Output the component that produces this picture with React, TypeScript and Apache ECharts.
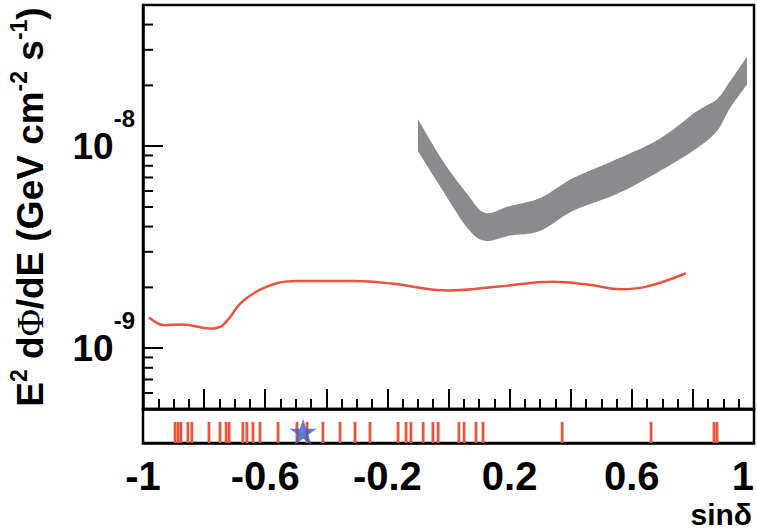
import React, { useEffect, useRef } from "react";
import * as echarts from "echarts";

// Sensitivity curve (red line): sin(declination) vs E^2 dPhi/dE [GeV cm^-2 s^-1]
const sinRedLine = [-0.980, -0.928, -0.869, -0.781, -0.739, -0.669, -0.565, -0.493, -0.306, -0.188, 0.002, 0.165, 0.342, 0.460, 0.565, 0.637, 0.777];
const fluxRedLine = [1.42e-9, 1.30e-9, 1.31e-9, 1.25e-9, 1.30e-9, 1.73e-9, 2.09e-9, 2.15e-9, 2.15e-9, 2.09e-9, 1.93e-9, 2.02e-9, 2.13e-9, 2.06e-9, 1.96e-9, 2.00e-9, 2.35e-9];

// Gray band (lower / upper edges)
const bandSin = [-0.100, -0.018, 0.061, 0.119, 0.201, 0.300, 0.408, 0.552, 0.692, 0.813, 0.879, 0.921, 0.977];
const bandLower = [9.45e-9, 6.00e-9, 3.95e-9, 3.40e-9, 3.61e-9, 3.81e-9, 4.79e-9, 5.81e-9, 7.53e-9, 9.77e-9, 1.19e-8, 1.54e-8, 2.02e-8];
const bandUpper = [1.36e-8, 8.43e-9, 5.81e-9, 4.68e-9, 5.06e-9, 5.54e-9, 6.95e-9, 8.63e-9, 1.09e-8, 1.49e-8, 1.71e-8, 2.09e-8, 2.77e-8];

// Event declinations (red marks in lower strip)
const stripEvents = [-0.895, -0.885, -0.876, -0.853, -0.840, -0.784, -0.748, -0.728, -0.718, -0.673, -0.660, -0.640, -0.617, -0.558, -0.496, -0.463, -0.411, -0.355, -0.306, -0.257, -0.165, -0.139, -0.123, -0.083, -0.051, -0.034, 0.034, 0.051, 0.090, 0.113, 0.372, 0.663, 0.869, 0.879];
// Star marker
const starSin = [-0.476];

// Log-axis minor ticks
const yMinorTicks = [6e-10, 7e-10, 8e-10, 9e-10, 2e-9, 3e-9, 4e-9, 5e-9, 6e-9, 7e-9, 8e-9, 9e-9, 2e-8, 3e-8, 4e-8];

const xTickLabels = ["-1", "-0.6", "-0.2", "0.2", "0.6", "1"];

const FONT = '"Liberation Sans", Arial, Helvetica, sans-serif';
const RED = "#e9543f";
const GRAY = "#8a8a8f";
const BLUE = "#3c5bc6";
const STAR = "path://M50,0 L61.2,34.5 L97.6,34.5 L68.2,55.9 L79.4,90.5 L50,69.1 L20.6,90.5 L31.8,55.9 L2.4,34.5 L38.8,34.5 Z";

// visual Catmull-Rom smoothing of pixel points
function spline(p: number[][], steps = 10): number[][] {
  const out: number[][] = [];
  const n = p.length;
  for (let i = 0; i < n - 1; i++) {
    const p0 = p[Math.max(i - 1, 0)], p1 = p[i], p2 = p[i + 1], p3 = p[Math.min(i + 2, n - 1)];
    for (let k = 0; k < steps; k++) {
      const t = k / steps, t2 = t * t, t3 = t2 * t;
      const f = (a: number, b: number, c: number, d: number) =>
        0.5 * (2 * b + (-a + c) * t + (2 * a - 5 * b + 4 * c - d) * t2 + (-a + 3 * b - 3 * c + d) * t3);
      out.push([f(p0[0], p1[0], p2[0], p3[0]), f(p0[1], p1[1], p2[1], p3[1])]);
    }
  }
  out.push(p[n - 1]);
  return out;
}

export default function App() {
  const ref = useRef<HTMLDivElement>(null);
  useEffect(() => {
    const chart = echarts.init(ref.current as HTMLDivElement, null, { renderer: "svg" });
    const axisLine = { show: true, onZero: false, lineStyle: { color: "#000", width: 2.5 } };
    const option: any = {
      animation: false,
      backgroundColor: "#fff",
      grid: [
        { left: 143, top: 5, width: 611, height: 404, show: true, borderColor: "#000", borderWidth: 2.5, backgroundColor: "transparent", outerBoundsMode: "none", containLabel: false },
        { left: 143, top: 409, width: 611, height: 34, show: true, borderColor: "#000", borderWidth: 2.5, backgroundColor: "transparent", outerBoundsMode: "none", containLabel: false },
      ],
      xAxis: [
        {
          type: "value", gridIndex: 0, min: -1, max: 1, interval: 0.2,
          axisLine,
          axisTick: { show: true, inside: true, length: 20, lineStyle: { color: "#000", width: 2 } },
          minorTick: { show: true, splitNumber: 4, length: 10, lineStyle: { color: "#000", width: 2 } },
          axisLabel: { show: false },
          splitLine: { show: false },
        },
        {
          type: "value", gridIndex: 1, min: -1, max: 1, interval: 0.4,
          axisLine,
          axisTick: { show: false },
          axisLabel: {
            fontSize: 40, fontWeight: "bold", fontFamily: FONT, color: "#000", margin: 13,
            alignMaxLabel: "right",
            formatter: (v: number) => {
              const i = Math.round((v + 1) / 0.4);
              return xTickLabels[i] ?? "";
            },
          },
          splitLine: { show: false },
        },
      ],
      yAxis: [
        {
          type: "log", logBase: 10, gridIndex: 0, min: 5e-10, max: 5e-8,
          axisLine,
          axisTick: { show: true, inside: true, length: 20, lineStyle: { color: "#000", width: 2 } },
          splitLine: { show: false },
          axisLabel: {
            margin: 8,
            formatter: (v: number) => {
              const lg = Math.log10(v);
              const e = Math.round(lg);
              if (Math.abs(lg - e) > 0.01) return "";
              return `{b|10}{s|${e}}`;
            },
            rich: {
              b: { fontSize: 37, fontWeight: "bold", fontFamily: FONT, color: "#000", lineHeight: 80 },
              s: { fontSize: 24, fontWeight: "bold", fontFamily: FONT, color: "#000", lineHeight: 24, verticalAlign: "top" },
            },
          },
          name: "{b|E}{s|2}{b| d}{p|Φ}{b|/dE (GeV cm}{s|-2}{b| s}{s|-1}{b|)}",
          nameLocation: "middle",
          nameRotate: 90,
          nameGap: 90,
          nameTextStyle: {
            rich: {
              b: { fontSize: 37, fontWeight: "bold", fontFamily: FONT, color: "#000", lineHeight: 46 },
              p: { fontSize: 37, fontWeight: "normal", fontFamily: '"Liberation Serif", "DejaVu Serif", serif', color: "#000", lineHeight: 46 },
              s: { fontSize: 23, fontWeight: "bold", fontFamily: FONT, color: "#000", lineHeight: 22, verticalAlign: "top" },
            },
          },
        },
        { type: "value", gridIndex: 1, min: 0, max: 1, show: false },
      ],
      graphic: [
        {
          type: "text", right: 5, top: 499,
          style: { text: "sinδ", font: `bold 30px ${FONT}`, fill: "#000" },
        },
      ],
      series: [
        {
          type: "custom", xAxisIndex: 0, yAxisIndex: 0, silent: true,
          data: bandSin.map((s, i) => [s, bandLower[i], bandUpper[i]]),
          encode: { x: 0, y: [1, 2] },
          renderItem: (params: any, api: any) => {
            if (params.dataIndex !== 0) return null;
            const up = bandSin.map((s, i) => api.coord([s, bandUpper[i]]));
            const lo = bandSin.map((s, i) => api.coord([s, bandLower[i]]));
            const pts = [...spline(up), ...spline(lo).reverse()];
            return { type: "polygon", shape: { points: pts }, style: { fill: GRAY } };
          },
        },
        {
          type: "line", xAxisIndex: 0, yAxisIndex: 0, smooth: 0.4, symbol: "none", silent: true,
          data: sinRedLine.map((s, i) => [s, fluxRedLine[i]]),
          lineStyle: { color: RED, width: 2.5 },
          z: 3,
        },
        {
          type: "custom", xAxisIndex: 0, yAxisIndex: 0, silent: true,
          data: yMinorTicks.map((v) => [-1, v]),
          encode: { x: 0, y: 1 },
          renderItem: (_p: any, api: any) => {
            const pt = api.coord([api.value(0), api.value(1)]);
            return { type: "line", shape: { x1: pt[0], y1: pt[1], x2: pt[0] + 10, y2: pt[1] }, style: { stroke: "#000", lineWidth: 2 } };
          },
        },
        {
          type: "custom", xAxisIndex: 1, yAxisIndex: 1, silent: true,
          data: stripEvents.map((s) => [s, 0]),
          encode: { x: 0, y: 1 },
          renderItem: (_p: any, api: any) => {
            const a = api.coord([api.value(0), 0]);
            const b = api.coord([api.value(0), 0.62]);
            return { type: "line", shape: { x1: a[0], y1: a[1], x2: b[0], y2: b[1] }, style: { stroke: RED, lineWidth: 2.8 } };
          },
        },
        {
          type: "scatter", xAxisIndex: 1, yAxisIndex: 1, silent: true,
          data: starSin.map((s) => [s, 0.33]),
          symbol: STAR, symbolSize: [27, 26],
          itemStyle: { color: BLUE },
          z: 5,
        },
      ],
    };
    chart.setOption(option);
    return () => chart.dispose();
  }, []);
  return <div ref={ref} style={{ position: "absolute", left: 0, top: 0, width: 757, height: 530 }} />;
}
